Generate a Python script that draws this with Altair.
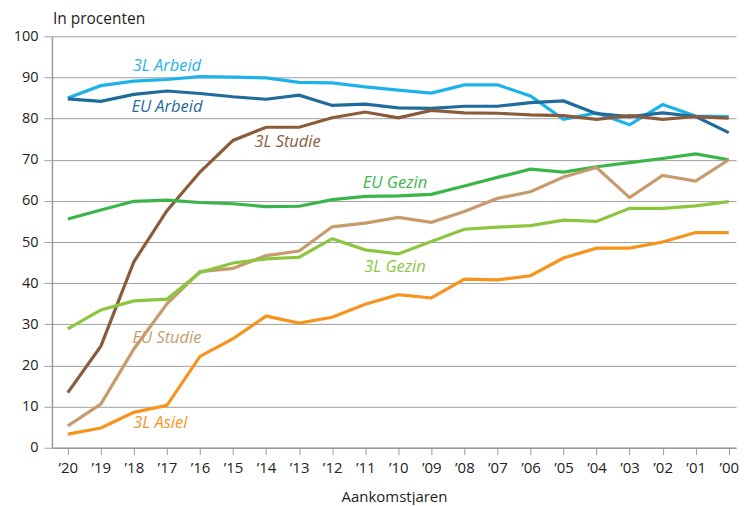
import altair as alt
import pandas as pd

years = list(range(2020, 1999, -1))

series_names = ["3L Arbeid", "EU Arbeid", "3L Studie", "EU Gezin", "EU Studie", "3L Gezin", "3L Asiel"]
colors = ["#1db3ea", "#1f6b9b", "#8a5c3b", "#39b54a", "#c69c6d", "#8cc63f", "#f7941d"]

arbeid_3l = [85.0, 88.0, 89.1, 89.5, 90.2, 90.1, 89.9, 88.8, 88.7, 87.7, 86.9, 86.2, 88.2, 88.2, 85.5, 79.8, 81.4, 78.5, 83.4, 80.6, 80.5]
arbeid_eu = [84.8, 84.2, 85.9, 86.7, 86.1, 85.3, 84.7, 85.7, 83.2, 83.5, 82.6, 82.5, 83.0, 83.0, 83.9, 84.3, 81.2, 80.5, 81.4, 80.5, 76.6]
studie_3l = [13.4, 24.7, 45.2, 57.6, 67.0, 74.7, 77.9, 77.9, 80.2, 81.6, 80.2, 82.0, 81.4, 81.3, 80.9, 80.7, 79.8, 80.7, 79.8, 80.5, 80.1]
gezin_eu = [55.6, 57.8, 59.9, 60.2, 59.6, 59.3, 58.6, 58.7, 60.3, 61.1, 61.2, 61.6, 63.6, 65.7, 67.7, 67.0, 68.3, 69.3, 70.3, 71.4, 70.0]
studie_eu = [5.3, 10.6, 24.0, 35.0, 42.8, 43.6, 46.7, 47.8, 53.7, 54.6, 56.0, 54.8, 57.4, 60.6, 62.2, 65.8, 68.1, 60.8, 66.2, 64.8, 70.0]
gezin_3l = [28.9, 33.5, 35.7, 36.1, 42.6, 44.9, 45.9, 46.3, 50.8, 48.1, 47.1, 50.1, 53.1, 53.6, 54.0, 55.3, 55.0, 58.2, 58.2, 58.8, 59.8]
asiel_3l = [3.3, 4.8, 8.6, 10.3, 22.2, 26.5, 32.0, 30.3, 31.7, 34.9, 37.2, 36.4, 41.0, 40.8, 41.8, 46.1, 48.5, 48.5, 50.0, 52.3, 52.3]

all_values = [arbeid_3l, arbeid_eu, studie_3l, gezin_eu, studie_eu, gezin_3l, asiel_3l]

label_years = [2017.0, 2017.0, 2013.35, 2010.1, 2017.0, 2010.1, 2017.2]
label_values = [92.9, 82.7, 74.2, 64.3, 26.7, 44.0, 5.9]

rows = []
for name, vals in zip(series_names, all_values):
    for yr, v in zip(years, vals):
        rows.append({"serie": name, "jaar": yr, "waarde": v})
df = pd.DataFrame(rows)
labels_df = pd.DataFrame({"serie": series_names, "jaar": label_years, "waarde": label_values})

FONT = "Open Sans"
color_scale = alt.Scale(domain=series_names, range=colors)
x_scale = alt.Scale(domain=[2020.48, 1999.78], nice=False, zero=False)
y_scale = alt.Scale(domain=[0, 100], nice=False)

x_axis = alt.Axis(
    values=years, tickCount=21,
    labelExpr="'\u2019' + substring(toString(datum.value), 2, 4)",
    labelOverlap=False, labelFlush=False, labelSeparation=0, labelBound=False,
    grid=False, tickSize=7, labelPadding=6, labelFontSize=15,
    title="Aankomstjaren", titleFontSize=15, titleFontWeight="normal", titlePadding=14,
    domainColor="#9a9a9a", tickColor="#9a9a9a", domainWidth=1.5,
)
y_axis = alt.Axis(
    values=list(range(0, 101, 10)), grid=True, gridColor="#a0a0a0", gridWidth=1,
    tickSize=8, labelPadding=6, labelFontSize=14.5, title=None,
    domainColor="#9a9a9a", tickColor="#a0a0a0", domainWidth=1.5,
)

lines = alt.Chart(df).mark_line(strokeWidth=3.2).encode(
    x=alt.X("jaar:Q", scale=x_scale, axis=x_axis),
    y=alt.Y("waarde:Q", scale=y_scale, axis=y_axis),
    color=alt.Color("serie:N", scale=color_scale, legend=None),
    order=alt.Order("jaar:Q"),
)

texts = alt.Chart(labels_df).mark_text(
    font=FONT, fontSize=16.5, fontStyle="italic", align="center", baseline="middle"
).encode(
    x=alt.X("jaar:Q", scale=x_scale),
    y=alt.Y("waarde:Q", scale=y_scale),
    text="serie:N",
    color=alt.Color("serie:N", scale=color_scale, legend=None),
)

ytitle = alt.Chart(pd.DataFrame({"t": ["In procenten"]})).mark_text(
    font=FONT, fontSize=15.5, align="left", baseline="middle", color="#222"
).encode(x=alt.value(1), y=alt.value(-17), text="t:N")

chart = alt.layer(lines, texts, ytitle).properties(
    width=685, height=412,
    padding={"left": 5, "top": 4, "right": 0, "bottom": 0},
).configure_view(stroke=None).configure_axis(
    labelFont=FONT, titleFont=FONT, labelColor="#222", titleColor="#222"
)

chart.save("out.html", embed_options={"renderer": "svg", "actions": False})
